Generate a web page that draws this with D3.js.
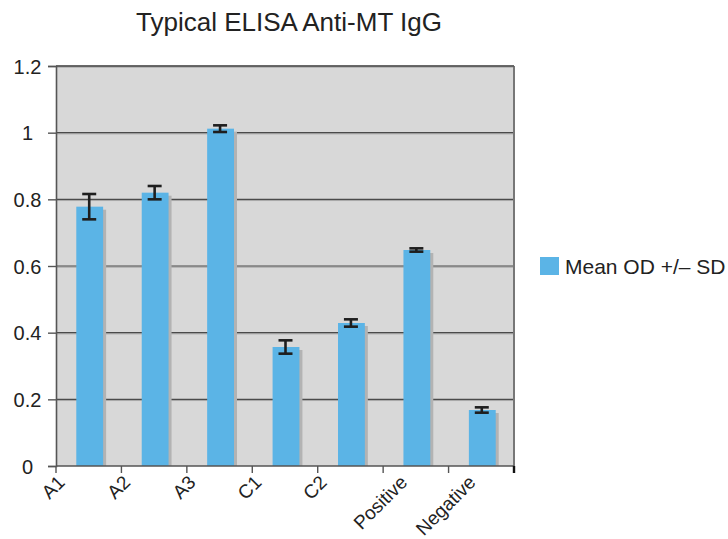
<!DOCTYPE html>
<html>
<head>
<meta charset="utf-8">
<script src="https://cdn.jsdelivr.net/npm/d3@7"></script>
<style>
  html, body { margin: 0; padding: 0; background: #fff; }
  svg { display: block; font-family: "Liberation Sans", Arial, sans-serif; }
</style>
</head>
<body>
<div id="chart"></div>
<script>
// values
const categories = ["A1", "A2", "A3", "C1", "C2", "Positive", "Negative"];
const meanOD = [0.778, 0.82, 1.012, 0.357, 0.429, 0.648, 0.168];
const sdOD = [0.038, 0.02, 0.01, 0.02, 0.011, 0.005, 0.008];
const yTicks = [0, 0.2, 0.4, 0.6, 0.8, 1, 1.2];
const titleText = "Typical ELISA Anti-MT IgG";
const legendText = "Mean OD +/\u2013 SD";

const canvas = { w: 728, h: 539 };
const plot = { left: 56, right: 514, top: 66, bottom: 466 };

const data = categories.map((c, i) => ({ cat: c, mean: meanOD[i], sd: sdOD[i] }));

const svg = d3.select("#chart")
    .append("svg")
    .attr("width", canvas.w)
    .attr("height", canvas.h)
    .attr("viewBox", `0 0 ${canvas.w} ${canvas.h}`);

const x = d3.scaleBand()
    .domain(categories)
    .range([plot.left, plot.right])
    .padding(0);

const y = d3.scaleLinear()
    .domain([0, 1.2])
    .range([plot.bottom, plot.top]);

const barW = x.bandwidth() * 0.41;
const barX = d => x(d.cat) + x.bandwidth() / 2 - barW / 2 + 1;

// plot background
svg.append("rect")
    .attr("x", plot.left)
    .attr("y", plot.top)
    .attr("width", plot.right - plot.left)
    .attr("height", plot.bottom - plot.top)
    .attr("fill", "#d8d8d8");

// gridlines (with a faint light-grey shadow under each)
const grid = svg.append("g");
grid.selectAll("line.shade")
    .data(yTicks.filter(t => t > 0))
    .join("line")
    .attr("class", "shade")
    .attr("x1", plot.left).attr("x2", plot.right)
    .attr("y1", d => y(d) + 1.2).attr("y2", d => y(d) + 1.2)
    .attr("stroke", "#a8a8a8")
    .attr("stroke-width", 1);
grid.selectAll("line.major")
    .data(yTicks.filter(t => t > 0))
    .join("line")
    .attr("class", "major")
    .attr("x1", plot.left).attr("x2", plot.right)
    .attr("y1", d => y(d)).attr("y2", d => y(d))
    .attr("stroke", "#4a4a4a")
    .attr("stroke-width", 1.2);

// right border of the plot
svg.append("line")
    .attr("x1", plot.right).attr("x2", plot.right)
    .attr("y1", plot.top).attr("y2", plot.bottom)
    .attr("stroke", "#777")
    .attr("stroke-width", 2);

// bar shadows then bars
svg.append("g")
    .selectAll("rect")
    .data(data)
    .join("rect")
    .attr("x", d => barX(d) + 3)
    .attr("y", d => y(d.mean) + 3)
    .attr("width", barW)
    .attr("height", d => plot.bottom - y(d.mean) - 3)
    .attr("fill", "#b3b3b3");

svg.append("g")
    .selectAll("rect")
    .data(data)
    .join("rect")
    .attr("x", barX)
    .attr("y", d => y(d.mean))
    .attr("width", barW)
    .attr("height", d => plot.bottom - y(d.mean))
    .attr("fill", "#5bb4e6");

// error bars
const capW = 14;
const err = svg.append("g")
    .attr("stroke", "#1e1e1e")
    .attr("stroke-width", 2.6)
    .selectAll("g")
    .data(data)
    .join("g")
    .attr("transform", d => `translate(${barX(d) + barW / 2 - 0.5},0)`);
err.append("line")
    .attr("x1", 0).attr("x2", 0)
    .attr("y1", d => y(d.mean + d.sd)).attr("y2", d => y(d.mean - d.sd));
err.append("line")
    .attr("x1", -capW / 2).attr("x2", capW / 2)
    .attr("y1", d => y(d.mean + d.sd)).attr("y2", d => y(d.mean + d.sd));
err.append("line")
    .attr("x1", -capW / 2).attr("x2", capW / 2)
    .attr("y1", d => y(d.mean - d.sd)).attr("y2", d => y(d.mean - d.sd));

// top border
svg.append("line")
    .attr("x1", plot.left).attr("x2", plot.right)
    .attr("y1", plot.top).attr("y2", plot.top)
    .attr("stroke", "#555")
    .attr("stroke-width", 1.4);

// y axis
const yAxis = svg.append("g")
    .attr("transform", `translate(${plot.left},0)`)
    .call(d3.axisLeft(y).tickValues(yTicks).tickSize(8).tickFormat(d3.format("~g")));
yAxis.select(".domain").attr("stroke", "#555").attr("stroke-width", 1.6);
yAxis.selectAll(".tick line").attr("stroke", "#555").attr("stroke-width", 1.4);
yAxis.selectAll(".tick text")
    .attr("x", -28.5)
    .attr("text-anchor", "middle")
    .attr("dy", "0.36em")
    .attr("fill", "#222")
    .style("font-size", "20px")
    .style("font-family", "Liberation Sans, Arial, sans-serif");

// x axis: ticks at band boundaries
const xAxis = svg.append("g");
xAxis.append("line")
    .attr("x1", plot.left).attr("x2", plot.right)
    .attr("y1", plot.bottom).attr("y2", plot.bottom)
    .attr("stroke", "#555")
    .attr("stroke-width", 1.6);
const bounds = categories.map(c => x(c)).concat([plot.right]);
xAxis.selectAll("line.tick")
    .data(bounds)
    .join("line")
    .attr("class", "tick")
    .attr("x1", d => d).attr("x2", d => d)
    .attr("y1", plot.bottom).attr("y2", plot.bottom + 7)
    .attr("stroke", (d, i) => i === bounds.length - 1 ? "#111" : "#555")
    .attr("stroke-width", (d, i) => i === bounds.length - 1 ? 2.4 : 1.4);

// rotated category labels, box centred on the left band edge
const cap = 13.5;
const k = Math.SQRT1_2;
xAxis.selectAll("text")
    .data(categories)
    .join("text")
    .text(d => d)
    .attr("text-anchor", "end")
    .attr("fill", "#222")
    .style("font-size", "19px")
    .each(function (d) {
        const w = this.getComputedTextLength();
        const ax = x(d) - 3 + k * (w + cap) / 2;
        const ay = 474 + k * cap;
        d3.select(this)
            .attr("x", ax).attr("y", ay)
            .attr("transform", `rotate(-45,${ax},${ay})`);
    });

// title
svg.append("text")
    .attr("x", 289)
    .attr("y", 31)
    .attr("text-anchor", "middle")
    .attr("fill", "#222")
    .style("font-size", "26px")
    .text(titleText);

// legend
const legend = svg.append("g").attr("transform", "translate(540,257)");
legend.append("rect")
    .attr("width", 19).attr("height", 18)
    .attr("fill", "#5bb4e6");
legend.append("text")
    .attr("x", 25).attr("y", 17)
    .attr("fill", "#222")
    .style("font-size", "21px")
    .text(legendText);
</script>
</body>
</html>
